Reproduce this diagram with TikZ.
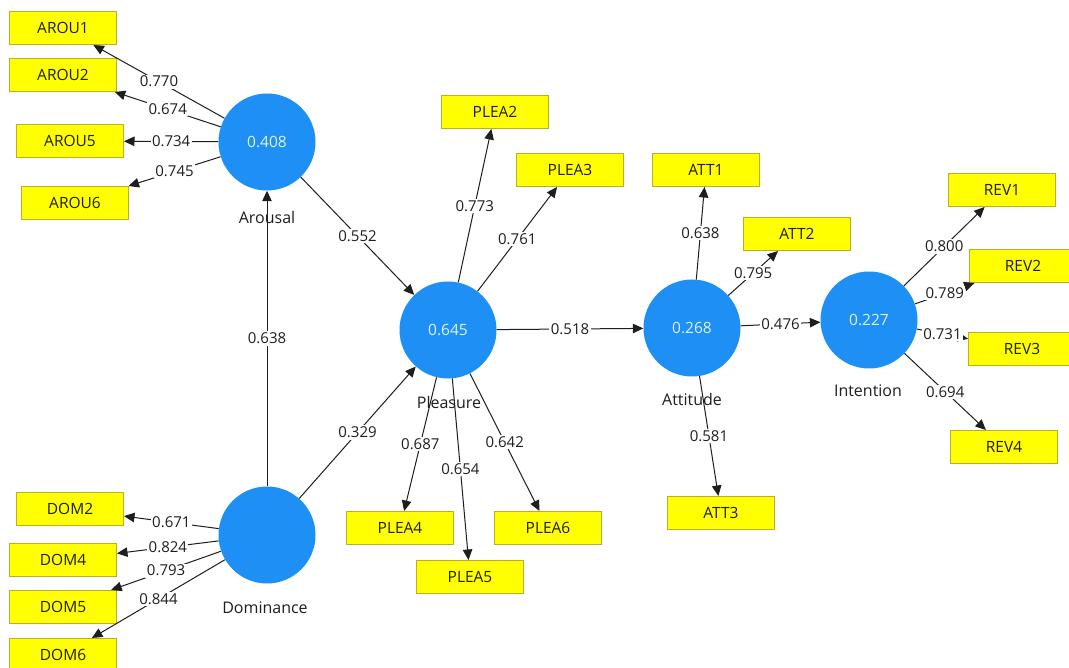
\documentclass[tikz,border=0pt]{standalone}
\usepackage{fontspec}
\setmainfont{Open Sans}
\usetikzlibrary{arrows.meta}
\definecolor{lvblue}{RGB}{30,144,245}
\definecolor{indyellow}{RGB}{255,255,0}
\definecolor{indborder}{RGB}{185,175,40}
\definecolor{valtext}{RGB}{225,240,255}
\definecolor{ink}{RGB}{30,30,30}
\begin{document}
\begin{tikzpicture}[x=1pt,y=-1pt,
  lv/.style={circle, fill=lvblue, minimum size=97pt, inner sep=0pt, text=valtext, font=\fontsize{15.5}{18}\selectfont},
  indbox/.style={rectangle, fill=indyellow, draw=indborder, line width=1pt, minimum width=107pt, minimum height=33pt, inner sep=0pt, text=ink, font=\fontsize{15.5}{18}\selectfont},
  lvname/.style={text=ink, inner sep=1pt, font=\fontsize{16}{18}\selectfont},
  link/.style={draw=ink, line width=1pt, -{Triangle[length=10.5pt,width=9.5pt]}},
  coef/.style={midway, fill=white, inner sep=1.5pt, text=ink, font=\fontsize{15}{18}\selectfont}
]
\clip (0,0) rectangle (1069,668);
\fill[white] (0,0) rectangle (1069,668);

% latent variables
\node[lv] (aro) at (267,142) {0.408};
\node[lv] (dom) at (267,535) {};
\node[lv] (ple) at (448,330) {0.645};
\node[lv] (att) at (692,328) {0.268};
\node[lv] (int) at (869,320) {0.227};

% names
\node[lvname] (aroname) at (267,218) {Arousal};
\node[lvname] (domname) at (265,608) {Dominance};
\node[lvname] (plename) at (449,403) {Pleasure};
\node[lvname] (attname) at (692,400) {Attitude};
\node[lvname] (intname) at (868,391) {Intention};

% indicators
\node[indbox] (arou1) at (63,28) {AROU1};
\node[indbox] (arou2) at (63,75) {AROU2};
\node[indbox] (arou5) at (70,141) {AROU5};
\node[indbox] (arou6) at (75,203) {AROU6};
\node[indbox] (dom2) at (70,509) {DOM2};
\node[indbox] (dom4) at (63,560) {DOM4};
\node[indbox] (dom5) at (63,607) {DOM5};
\node[indbox] (dom6) at (63,655) {DOM6};
\node[indbox] (plea2) at (495,112) {PLEA2};
\node[indbox] (plea3) at (570,170) {PLEA3};
\node[indbox] (plea4) at (400,528) {PLEA4};
\node[indbox] (plea5) at (470,577) {PLEA5};
\node[indbox] (plea6) at (548,528) {PLEA6};
\node[indbox] (att1) at (706,170) {ATT1};
\node[indbox] (att2) at (797,234) {ATT2};
\node[indbox] (att3) at (721,513) {ATT3};
\node[indbox] (rev1) at (1002,190) {REV1};
\node[indbox] (rev2) at (1023,266) {REV2};
\node[indbox] (rev3) at (1022,349) {REV3};
\node[indbox] (rev4) at (1004,447) {REV4};

% outer loadings
\draw[link] (aro) -- node[coef]{0.770} (arou1);
\draw[link] (aro) -- node[coef]{0.674} (arou2);
\draw[link] (aro) -- node[coef]{0.734} (arou5);
\draw[link] (aro) -- node[coef]{0.745} (arou6);
\draw[link] (dom) -- node[coef]{0.671} (dom2);
\draw[link] (dom) -- node[coef]{0.824} (dom4);
\draw[link] (dom) -- node[coef]{0.793} (dom5);
\draw[link] (dom) -- node[coef]{0.844} (dom6);
\draw[link] (ple) -- node[coef]{0.773} (plea2);
\draw[link] (ple) -- node[coef]{0.761} (plea3);
\draw[link] (ple) -- node[coef]{0.687} (plea4);
\draw[link] (ple) -- node[coef]{0.654} (plea5);
\draw[link] (ple) -- node[coef]{0.642} (plea6);
\draw[link] (att) -- node[coef]{0.638} (att1);
\draw[link] (att) -- node[coef]{0.795} (att2);
\draw[link] (att) -- node[coef]{0.581} (att3);
\draw[link] (int) -- node[coef]{0.800} (rev1);
\draw[link] (int) -- node[coef]{0.789} (rev2);
\draw[link] (int) -- node[coef]{0.731} (rev3);
\draw[link] (int) -- node[coef]{0.694} (rev4);

% path coefficients
\draw[link] (aro) -- node[coef]{0.552} (ple);
\draw[link] (dom) -- node[coef]{0.329} (ple);
\draw[link] (dom) -- node[coef]{0.638} (aro);
\draw[link] (ple) -- node[coef]{0.518} (att);
\draw[link] (att) -- node[coef]{0.476} (int);
\end{tikzpicture}
\end{document}
